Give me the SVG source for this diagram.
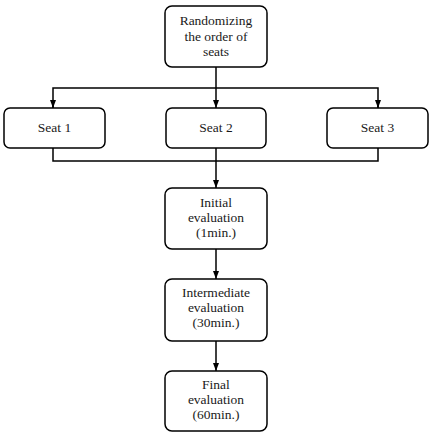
<svg xmlns="http://www.w3.org/2000/svg" width="440" height="433" viewBox="0 0 440 433">
<defs>
<style>
.box{fill:#fff;stroke:#000;stroke-width:1.5}
.t{font-family:'Liberation Serif','Times New Roman','DejaVu Serif',serif;font-size:13.5px;text-anchor:middle;fill:#1a1a1a}
.c{fill:none;stroke:#000;stroke-width:1.5}
</style>
<marker id="ah" markerWidth="8" markerHeight="8" viewBox="0 0 8 8" refX="8" refY="4" orient="auto" markerUnits="userSpaceOnUse">
<path d="M0,1 L8,4 L0,7 Z" fill="#000"/>
</marker>
</defs>
<rect width="440" height="433" fill="#fff"/>
<g id="connectors">
<path class="c" d="M216,67 V108" marker-end="url(#ah)"/>
<path class="c" d="M53,108 V88 H378 V108" />
<path class="c" d="M53,100 V108" marker-end="url(#ah)"/>
<path class="c" d="M378,100 V108" marker-end="url(#ah)"/>
<path class="c" d="M53,148 V161 H378 V148"/>
<path class="c" d="M216,148 V188" marker-end="url(#ah)"/>
<path class="c" d="M216,249 V279" marker-end="url(#ah)"/>
<path class="c" d="M216,341 V371" marker-end="url(#ah)"/>
</g>
<g id="randomize">
<rect class="box" x="165" y="6" width="102" height="61" rx="7"/>
<text class="t" x="216" y="25">Randomizing</text>
<text class="t" x="216" y="40.5">the order of</text>
<text class="t" x="216" y="56">seats</text>
</g>
<g id="seat1">
<rect class="box" x="4" y="108" width="101" height="40" rx="6"/>
<text class="t" x="54.5" y="132">Seat 1</text>
</g>
<g id="seat2">
<rect class="box" x="166" y="108" width="100" height="40" rx="6"/>
<text class="t" x="216" y="132">Seat 2</text>
</g>
<g id="seat3">
<rect class="box" x="327" y="108" width="101" height="40" rx="6"/>
<text class="t" x="377.5" y="132">Seat 3</text>
</g>
<g id="initial">
<rect class="box" x="165" y="188" width="102" height="61" rx="7"/>
<text class="t" x="216" y="207">Initial</text>
<text class="t" x="216" y="222">evaluation</text>
<text class="t" x="216" y="237">(1min.)</text>
</g>
<g id="intermediate">
<rect class="box" x="165" y="279" width="102" height="62" rx="7"/>
<text class="t" x="216" y="297">Intermediate</text>
<text class="t" x="216" y="312">evaluation</text>
<text class="t" x="216" y="327">(30min.)</text>
</g>
<g id="final">
<rect class="box" x="165" y="371" width="102" height="60" rx="7"/>
<text class="t" x="216" y="389">Final</text>
<text class="t" x="216" y="404">evaluation</text>
<text class="t" x="216" y="419">(60min.)</text>
</g>
</svg>
